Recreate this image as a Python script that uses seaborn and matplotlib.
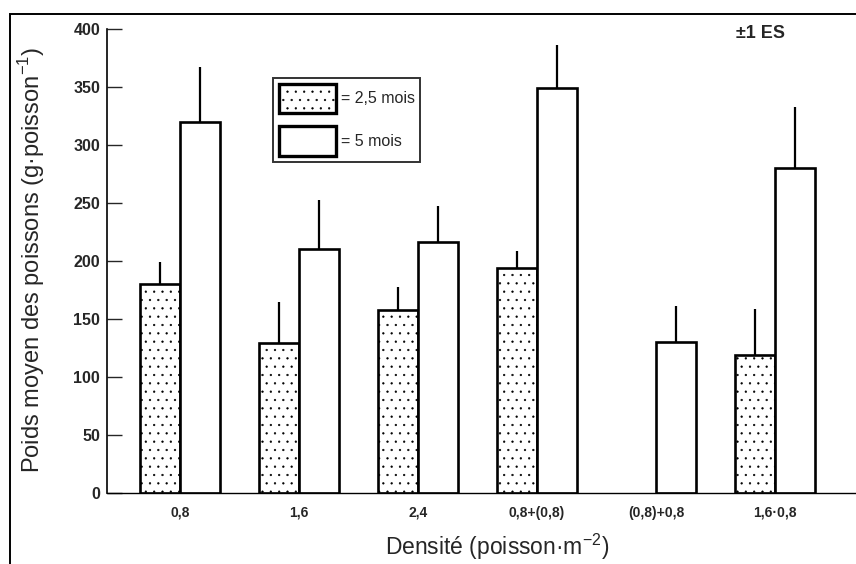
import matplotlib
matplotlib.use("Agg")
import matplotlib.pyplot as plt
from matplotlib.patches import Patch, Rectangle
from matplotlib.container import BarContainer
import numpy as np
import pandas as pd
import seaborn as sns

# ---- data ----
categories = ["0,8", "1,6", "2,4", "0,8+(0,8)", "(0,8)+0,8", "1,6·0,8"]
series = ["= 2,5 mois", "= 5 mois"]
mean_25 = [180, 129, 158, 194, np.nan, 119]
err_25 = [19, 36, 20, 15, np.nan, 40]
mean_5 = [320, 210, 216, 349, 130, 280]
err_5 = [47, 43, 31, 37, 31, 53]
yticks = [0, 50, 100, 150, 200, 250, 300, 350, 400]

sns.set_theme(style="white")
plt.rcParams["font.family"] = ["Liberation Sans", "DejaVu Sans"]
plt.rcParams["hatch.color"] = "#9a9a9a"
plt.rcParams["hatch.linewidth"] = 0.4

df = pd.DataFrame({
    "cat": categories * 2,
    "serie": [series[0]] * len(categories) + [series[1]] * len(categories),
    "val": mean_25 + mean_5,
    "err": err_25 + err_5,
}).dropna()

fig = plt.figure(figsize=(8.56, 5.64), dpi=100)
ax = fig.add_axes([107 / 856, 1 - 493 / 564, 1 - 107 / 856, (493 - 29) / 564])

sns.barplot(data=df, x="cat", y="val", hue="serie", order=categories,
            hue_order=series, palette=["white", "white"], width=0.67,
            errorbar=None, legend=False, edgecolor="black", linewidth=1.9,
            ax=ax, zorder=2)

# stipple + upward error bars, per series container
errs_by_series = [err_25, err_5]
bar_conts = [c for c in ax.containers if isinstance(c, BarContainer)]
for j, cont in enumerate(bar_conts):
    for p in list(cont.patches):
        h = p.get_height()
        if h is None or np.isnan(h) or h == 0:
            continue
        xc = p.get_x() + p.get_width() / 2
        idx = int(round(xc))
        if j == 0:
            p.set_hatch("..")
        ax.errorbar([xc], [h], yerr=[[0], [errs_by_series[j][idx]]],
                    fmt="none", ecolor="black", elinewidth=1.6, capsize=0, zorder=1)

ax.set_ylim(0, 400)
ax.set_xlim(-0.613, 5.68)
ax.set_yticks(yticks)
ax.set_yticklabels([str(t) for t in yticks], fontweight="bold", fontsize=11.5)
ax.tick_params(axis="y", direction="in", length=11, width=1, pad=5, left=True)
ax.tick_params(axis="x", length=0, pad=9)
for lab in ax.get_xticklabels():
    lab.set_fontweight("bold")
    lab.set_fontsize(10)

for s in ["top", "right"]:
    ax.spines[s].set_visible(False)
ax.spines["left"].set_linewidth(1.2)
ax.spines["left"].set_color("black")
ax.spines["bottom"].set_linewidth(1.0)
ax.spines["bottom"].set_color("black")

ax.set_xlabel("Densité (poisson·m$^{\\mathregular{-2}}$)", fontsize=16.5)
ax.set_ylabel("Poids moyen des poissons (g·poisson$^{\\mathregular{-1}}$)", fontsize=17)
ax.xaxis.set_label_coords((497 - 107) / 749, (493 - 532) / 464)
ax.yaxis.set_label_coords((47 - 107) / 749, (493 - 260) / 464)

handles = [Patch(facecolor="white", edgecolor="black", hatch="..", linewidth=2.4),
           Patch(facecolor="white", edgecolor="black", linewidth=2.4)]
leg = ax.legend(handles, series, loc="upper left",
                bbox_to_anchor=(273 / 856, 1 - 78 / 564), bbox_transform=fig.transFigure,
                fontsize=11.5, handlelength=3.6, handleheight=2.5, handletextpad=0.3,
                borderpad=0.35, labelspacing=0.8, borderaxespad=0,
                fancybox=False, frameon=True)
leg.get_frame().set_edgecolor("black")
leg.get_frame().set_linewidth(1.4)

ax.text(760 / 856, 1 - 33 / 564, "±1 ES", transform=fig.transFigure,
        ha="center", va="center", fontsize=13, fontweight="bold")

fig.add_artist(Rectangle((10 / 856, -0.2), 1.5, 0.2 + 1 - 14 / 564,
                         transform=fig.transFigure, fill=False,
                         edgecolor="black", linewidth=1.4))

fig.savefig("out.png", dpi=100)
